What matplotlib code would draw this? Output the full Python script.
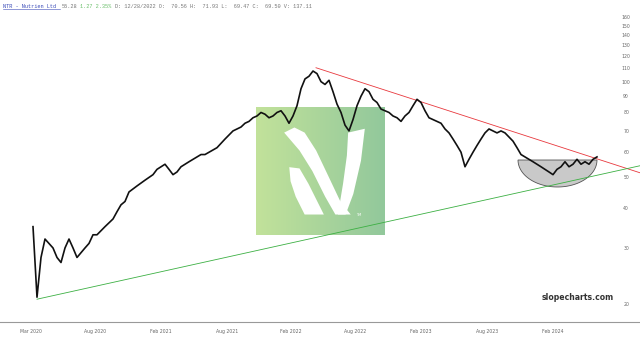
import numpy as np
import matplotlib
matplotlib.use("Agg")
import matplotlib.pyplot as plt
from matplotlib.patches import Polygon
from matplotlib.ticker import FixedLocator, NullLocator

# ---------------- data ----------------
close = [35, 21, 28, 32, 31, 30, 28, 27, 30, 32, 30, 28, 29, 30, 31, 33, 33, 34, 35, 36,
         37, 39, 41, 42, 45, 46, 47, 48, 49, 50, 51, 53, 54, 55, 53, 51, 52, 54, 55, 56,
         57, 58, 59, 59, 60, 61, 62, 64, 66, 68, 70, 71, 72, 74, 75, 77, 78, 80, 79, 77,
         78, 80, 81, 78, 74, 78, 84, 95, 102, 104, 108, 106, 100, 98, 101, 93, 85, 80, 73, 70,
         76, 84, 90, 95, 93, 88, 86, 82, 81, 80, 78, 77, 75, 78, 80, 84, 88, 86, 81, 77,
         76, 75, 74, 71, 69, 66, 63, 60, 54, 57, 60, 63, 66, 69, 71, 70, 69, 70, 69, 67,
         65, 62, 59, 58, 57, 56, 55, 54, 53, 52, 51, 53, 54, 56, 54, 55, 57, 55, 56, 55,
         57, 58]
x_labels = ["Mar 2020", "Aug 2020", "Feb 2021", "Aug 2021", "Feb 2022",
            "Aug 2022", "Feb 2023", "Aug 2023", "Feb 2024"]
x_label_pos = [-0.5, 15.5, 32.0, 48.5, 64.5, 80.5, 97.0, 113.5, 130.0]
y_ticks = [20, 30, 40, 50, 60, 70, 80, 90, 100, 110, 120, 130, 140, 150, 160]
red_line_x = [70.75, 151.75]
red_line_p = [110.6, 51.7]
green_line_x = [1.0, 151.75]
green_line_p = [20.7, 54.4]

# ---------------- figure ----------------
W, H = 640, 343
fig = plt.figure(figsize=(6.4, 3.43), dpi=100)
fig.patch.set_facecolor("white")

# logo (behind chart)
lax = fig.add_axes([256 / W, 1 - 235 / H, 128 / W, 128 / H])
lax.set_xlim(0, 1); lax.set_ylim(0, 1); lax.axis("off")
c0 = np.array([194, 226, 154]) / 255
c1 = np.array([146, 200, 156]) / 255
t = np.linspace(0, 1, 200)
grad = (c0[None, :] * (1 - t[:, None]) + c1[None, :] * t[:, None])[None, :, :]
lax.imshow(grad, extent=[0, 1, 0, 1], aspect="auto")
# stylised white "N"
diag = [(0.22, 0.80), (0.30, 0.84), (0.38, 0.80), (0.47, 0.66), (0.57, 0.45),
        (0.66, 0.26), (0.74, 0.16), (0.62, 0.16), (0.54, 0.30), (0.44, 0.50),
        (0.34, 0.66)]
leaf = [(0.26, 0.53), (0.34, 0.52), (0.41, 0.40), (0.48, 0.26), (0.53, 0.16),
        (0.38, 0.16), (0.31, 0.30), (0.27, 0.42)]
right = [(0.72, 0.80), (0.85, 0.83), (0.82, 0.58), (0.76, 0.32), (0.70, 0.16),
         (0.64, 0.16), (0.68, 0.40), (0.71, 0.62)]
for poly in (diag, leaf, right):
    lax.add_patch(Polygon(poly, closed=True, fc="white", ec="none"))
lax.text(0.78, 0.16, "TM", color="white", fontsize=2.6, ha="left", va="center")

# main chart
ax = fig.add_axes([0, 1 - 322 / H, 1, 312 / H])
ax.set_facecolor("none")
x = np.arange(len(close))
ax.plot(x, close, color="#111111", lw=1.2, zorder=4)
ax.plot(red_line_x, red_line_p, color="#e8383d", lw=0.6, zorder=3)
ax.plot(green_line_x, green_line_p, color="#3cb043", lw=0.6, zorder=3)

ax.set_yscale("log")
ax.set_ylim(17.55, 168)
ax.set_xlim(-8.25, 151.75)

# bowl (half-ellipse) in axes coords
cx, a = (518 + 597) / 2 / W, (597 - 518) / 2 / W
cy = (322 - 160) / 312
b = (187 - 160) / 312
th = np.linspace(np.pi, 2 * np.pi, 80)
pts = np.column_stack([cx + a * np.cos(th), cy + b * np.sin(th)])
ax.add_patch(Polygon(pts, closed=True, transform=ax.transAxes, fc="#c4c4c4",
                     ec="#444444", lw=0.6, alpha=0.9, zorder=2))

# axes styling
for s in ("top", "left", "right"):
    ax.spines[s].set_visible(False)
ax.spines["bottom"].set_color("#999999")
ax.spines["bottom"].set_linewidth(0.8)
ax.yaxis.set_major_locator(FixedLocator(y_ticks))
ax.yaxis.set_minor_locator(NullLocator())
ax.set_yticklabels([str(v) for v in y_ticks])
ax.yaxis.tick_right()
ax.tick_params(axis="y", which="both", length=0, pad=-10, labelsize=3.3,
               labelcolor="#666666")
for lbl in ax.get_yticklabels():
    lbl.set_horizontalalignment("center")
ax.xaxis.set_major_locator(FixedLocator(x_label_pos))
ax.set_xticklabels(x_labels)
ax.tick_params(axis="x", length=0, pad=5, labelsize=3.3, labelcolor="#666666")

# header
fy = 1 - 6 / H
fig.text(3 / W, fy, "NTR - Nutrien Ltd", fontsize=3.8, family="Liberation Mono",
         color="#3b4bb8", va="center")
fig.add_artist(plt.Line2D([3 / W, 60 / W], [fy - 3.2 / H, fy - 3.2 / H],
                          color="#3b4bb8", lw=0.4))
fig.text(62 / W, fy, "55.28", fontsize=3.8, family="Liberation Mono",
         color="#777777", va="center")
fig.text(80 / W, fy, "1.27 2.35%", fontsize=3.8, family="Liberation Mono",
         color="#6abf6a", va="center")
fig.text(115 / W, fy, "D: 12/28/2022 O:  70.56 H:  71.93 L:  69.47 C:  69.50 V: 137.11",
         fontsize=3.8, family="Liberation Mono", color="#777777", va="center")

# watermark
fig.text(614 / W, 1 - 297 / H, "slopecharts.com", fontsize=5.6, weight="bold",
         color="#333333", ha="right", va="center")

fig.savefig("out.png", dpi=100)
